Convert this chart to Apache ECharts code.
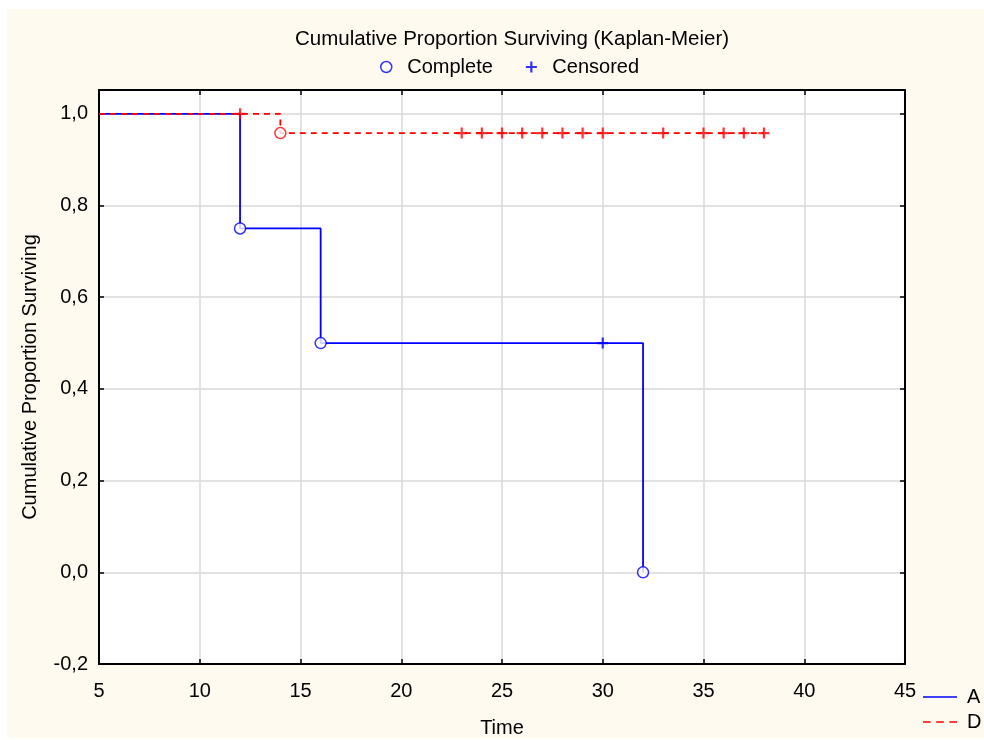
<!DOCTYPE html>
<html>
<head>
<meta charset="utf-8">
<script src="https://cdn.jsdelivr.net/npm/echarts@6/dist/echarts.min.js"></script>
<style>
html,body{margin:0;padding:0;background:#ffffff;}
#bg{position:absolute;left:7px;top:9px;width:977px;height:729px;background:#fefaf0;}
#chart{position:absolute;left:0;top:0;width:984px;height:740px;}
</style>
</head>
<body>
<div id="bg"></div>
<div id="chart"></div>
<script>
// Kaplan-Meier step curves (time, cumulative proportion surviving)
const timeA = [5, 12, 16, 32];
const survA = [1.0, 0.75, 0.5, 0.0];
const timeD = [5, 14, 38];
const survD = [1.0, 0.958, 0.958];
// complete (event) observations
const completeTimeA = [12, 16, 32];
const completeSurvA = [0.75, 0.5, 0.0];
const completeTimeD = [14];
const completeSurvD = [0.958];
// censored observations
const censTimeA = [30];
const censSurvA = [0.5];
const censTimeD = [12, 23, 24, 25, 26, 27, 28, 29, 30, 33, 35, 36, 37, 38];
const censSurvD = [1.0, 0.958, 0.958, 0.958, 0.958, 0.958, 0.958, 0.958, 0.958, 0.958, 0.958, 0.958, 0.958, 0.958];
const xTicks = {min: 5, max: 45, interval: 5};
const yTicks = {min: -0.2, max: 1.052, interval: 0.2};

const BLUE = '#0000ff', RED = '#ff0000';
const FONT = 'Liberation Sans, Arial, sans-serif';
const FS = 20;
const PLUS = 'path://M4,0h2v10h-2zM0,4h10v2h-10z';
const zip = (a, b) => a.map((v, i) => [v, b[i]]);

const chart = echarts.init(document.getElementById('chart'), null, {renderer: 'canvas'});
const fmtY = v => v.toFixed(1).replace('.', ',');

chart.setOption({
  animation: false,
  textStyle: {fontFamily: FONT},
  title: {
    text: 'Cumulative Proportion Surviving (Kaplan-Meier)',
    left: 507, top: 24, textAlign: 'center',
    textStyle: {fontFamily: FONT, fontSize: 20.5, fontWeight: 'normal', color: '#000'}
  },
  legend: [{
    top: 52, left: 375, itemWidth: 32, itemHeight: 11, itemGap: 33,
    textStyle: {fontFamily: FONT, fontSize: FS, color: '#000'},
    data: [
      {name: 'Complete', icon: 'circle', itemStyle: {color: '#fff', borderColor: BLUE, borderWidth: 1.5}},
      {name: 'Censored', icon: PLUS, itemStyle: {color: BLUE, borderWidth: 0}}
    ]
  }, {
    orient: 'vertical', left: 923, top: 687, padding: 0, itemWidth: 34, itemHeight: 12, itemGap: 5,
    textStyle: {fontFamily: FONT, fontSize: FS, color: '#000', padding: [0, 0, 0, 5]},
    data: [{name: 'A', icon: 'path://M0,0h34v1.5h-34z', itemStyle:{color: BLUE}},
           {name: 'D', icon: 'path://M0,0h7v1.5h-7zM12,0h7v1.5h-7zM24,0h7v1.5h-7z', itemStyle:{color: RED}}]
  }],
  grid: {left: 99, right: 79, top: 90, bottom: 76, containLabel: false, outerBoundsMode: 'none',
    show: true, backgroundColor: '#ffffff', borderColor: '#000', borderWidth: 0},
  xAxis: [{
    type: 'value', min: xTicks.min, max: xTicks.max, interval: xTicks.interval,
    name: 'Time', nameLocation: 'middle', nameGap: 54,
    nameTextStyle: {fontFamily: FONT, fontSize: FS, color: '#000'},
    axisLine: {show: true, onZero: false, lineStyle: {color: '#000', width: 2}},
    axisTick: {show: true, inside: true, length: 5, lineStyle: {color: '#000', width: 1.5}},
    axisLabel: {fontFamily: FONT, fontSize: FS, color: '#000', margin: 17},
    splitLine: {show: true, lineStyle: {color: '#d9d9d9', width: 1.5}}
  }, {
    type: 'value', position: 'top', min: xTicks.min, max: xTicks.max, interval: xTicks.interval,
    axisLine: {show: true, onZero: false, lineStyle: {color: '#000', width: 2}},
    axisTick: {show: true, inside: true, length: 5, lineStyle: {color: '#000', width: 1.5}},
    axisLabel: {show: false}, splitLine: {show: false}
  }],
  yAxis: [{
    type: 'value', min: yTicks.min, max: yTicks.max, interval: yTicks.interval,
    name: 'Cumulative Proportion Surviving', nameLocation: 'middle', nameGap: 59,
    nameTextStyle: {fontFamily: FONT, fontSize: FS, color: '#000'},
    axisLine: {show: true, onZero: false, lineStyle: {color: '#000', width: 2}},
    axisTick: {show: true, inside: true, length: 5, lineStyle: {color: '#000', width: 1.5}},
    axisLabel: {fontFamily: FONT, fontSize: FS, color: '#000', margin: 11, showMaxLabel: false,
      formatter: v => (Math.abs(v - yTicks.max) < 1e-6 ? '' : fmtY(v))},
    splitLine: {show: true, lineStyle: {color: '#d9d9d9', width: 1.5}}
  }, {
    type: 'value', position: 'right', min: yTicks.min, max: yTicks.max, interval: yTicks.interval,
    axisLine: {show: true, onZero: false, lineStyle: {color: '#000', width: 2}},
    axisTick: {show: true, inside: true, length: 5, lineStyle: {color: '#000', width: 1.5}},
    axisLabel: {show: false}, splitLine: {show: false}
  }],
  series: [{
    name: 'A', type: 'line', step: 'end', data: zip(timeA, survA),
    symbol: 'none', lineStyle: {color: BLUE, width: 1.8}, itemStyle: {color: BLUE}, z: 3
  }, {
    name: 'D', type: 'line', step: 'end', data: zip(timeD, survD),
    symbol: 'none', lineStyle: {color: RED, width: 1.8, type: [6, 5]}, itemStyle: {color: RED}, z: 4
  }, {
    name: 'Complete', type: 'scatter', symbol: 'circle', symbolSize: 11, z: 5,
    itemStyle: {color: '#fff', borderColor: BLUE, borderWidth: 1.5},
    data: zip(completeTimeA, completeSurvA).map(p => ({value: p}))
      .concat(zip(completeTimeD, completeSurvD).map(p => ({value: p, itemStyle: {color: '#fff', borderColor: RED, borderWidth: 1.5}})))
  }, {
    name: 'Censored', type: 'scatter', symbol: PLUS, symbolSize: 11, z: 6,
    itemStyle: {color: BLUE},
    data: zip(censTimeA, censSurvA).map(p => ({value: p}))
      .concat(zip(censTimeD, censSurvD).map(p => ({value: p, itemStyle: {color: RED}})))
  }]
});
</script>
</body>
</html>
